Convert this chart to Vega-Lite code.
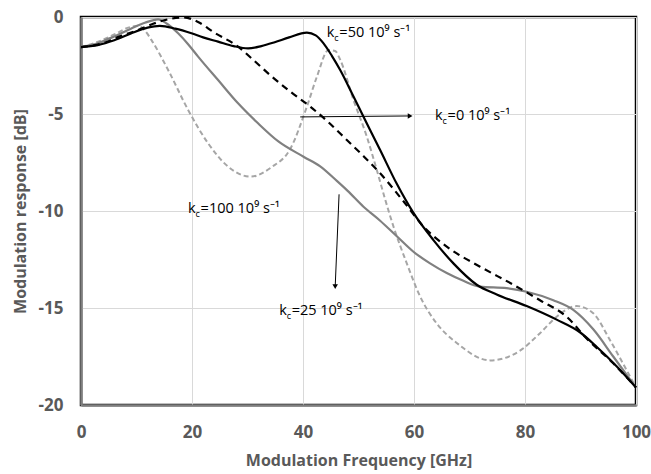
{
  "$schema": "https://vega.github.io/schema/vega-lite/v6.json",
  "width": 555,
  "height": 388,
  "autosize": {"type": "none"},
  "padding": {"left": 81, "top": 17, "right": 15, "bottom": 69},
  "background": "white",
  "config": {
    "view": {"stroke": "black", "strokeWidth": 2.5},
    "axis": {
      "domainColor": "#7f7f7f", "domainWidth": 2.5, "ticks": false,
      "gridColor": "#d9d9d9", "gridWidth": 1,
      "labelFont": "Open Sans", "labelFontWeight": "bold", "labelFontSize": 17, "labelColor": "#595959",
      "titleFont": "Open Sans", "titleFontWeight": "bold", "titleFontSize": 16, "titleColor": "#595959",
      "labelExpr": "'' + datum.value"
    }
  },
  "datasets": {
    "k50": [
      {"f":0,"db":-1.55},{"f":3,"db":-1.45},{"f":6,"db":-1.2},{"f":9,"db":-0.85},{"f":12,"db":-0.55},{"f":14.2,"db":-0.46},{"f":17,"db":-0.6},{"f":19.9,"db":-0.84},{"f":22,"db":-1.05},{"f":24.7,"db":-1.27},{"f":27.5,"db":-1.5},{"f":30.1,"db":-1.62},{"f":32.5,"db":-1.5},{"f":34.9,"db":-1.3},{"f":37.5,"db":-1.05},{"f":40.7,"db":-0.81},{"f":42.3,"db":-0.95},{"f":43.7,"db":-1.36},{"f":45.2,"db":-2.0},{"f":46.7,"db":-2.73},{"f":49.1,"db":-4.1},{"f":50.9,"db":-5.14},{"f":53.9,"db":-6.86},{"f":56.9,"db":-8.6},{"f":59.9,"db":-10.1},{"f":63.5,"db":-11.5},{"f":67.1,"db":-12.7},{"f":71.3,"db":-13.8},{"f":74.9,"db":-14.3},{"f":80.3,"db":-14.9},{"f":85.7,"db":-15.6},{"f":89.9,"db":-16.25},{"f":92.9,"db":-17.0},{"f":96.5,"db":-18.0},{"f":100,"db":-19.1}
    ],
    "k0": [
      {"f":0,"db":-1.55},{"f":4,"db":-1.35},{"f":7,"db":-1.0},{"f":10.3,"db":-0.67},{"f":13,"db":-0.35},{"f":16,"db":-0.1},{"f":18.5,"db":-0.02},{"f":21,"db":-0.24},{"f":24,"db":-0.8},{"f":28.3,"db":-1.53},{"f":31,"db":-2.2},{"f":34.1,"db":-3.0},{"f":37.5,"db":-3.8},{"f":41.3,"db":-4.62},{"f":44.5,"db":-5.4},{"f":47.9,"db":-6.34},{"f":51,"db":-7.2},{"f":53.9,"db":-8.06},{"f":58.1,"db":-9.5},{"f":61.7,"db":-10.8},{"f":65.9,"db":-11.84},{"f":71.9,"db":-12.87},{"f":77.9,"db":-13.8},{"f":82.7,"db":-14.6},{"f":87.5,"db":-15.45},{"f":91.1,"db":-16.57},{"f":95.9,"db":-17.85},{"f":100,"db":-19.1}
    ],
    "k100": [
      {"f":0,"db":-1.55},{"f":3,"db":-1.35},{"f":6,"db":-1.0},{"f":9,"db":-0.6},{"f":11.5,"db":-0.3},{"f":13.9,"db":-0.12},{"f":15.5,"db":-0.35},{"f":17.5,"db":-0.84},{"f":19.3,"db":-1.4},{"f":21.1,"db":-2.04},{"f":24.7,"db":-3.25},{"f":28.3,"db":-4.45},{"f":31.9,"db":-5.48},{"f":35.5,"db":-6.4},{"f":40.1,"db":-7.2},{"f":43.1,"db":-7.7},{"f":46.1,"db":-8.45},{"f":48,"db":-8.95},{"f":50.9,"db":-9.78},{"f":53.9,"db":-10.5},{"f":56.9,"db":-11.3},{"f":59.9,"db":-12.1},{"f":62.9,"db":-12.7},{"f":65.9,"db":-13.2},{"f":68.9,"db":-13.6},{"f":71.9,"db":-13.9},{"f":76.7,"db":-13.98},{"f":80.3,"db":-14.16},{"f":85.1,"db":-14.6},{"f":88.7,"db":-15.1},{"f":92.3,"db":-16.1},{"f":95.9,"db":-17.5},{"f":100,"db":-19.1}
    ],
    "k25": [
      {"f":0,"db":-1.55},{"f":3.1,"db":-1.27},{"f":6,"db":-0.9},{"f":8.5,"db":-0.55},{"f":10.3,"db":-0.45},{"f":11.5,"db":-0.7},{"f":12.7,"db":-1.19},{"f":15.7,"db":-2.73},{"f":19.3,"db":-4.79},{"f":22.9,"db":-6.51},{"f":26.5,"db":-7.71},{"f":30.5,"db":-8.23},{"f":34.3,"db":-7.75},{"f":37.7,"db":-6.8},{"f":40.7,"db":-4.62},{"f":42.5,"db":-3.08},{"f":44.6,"db":-1.7},{"f":45.8,"db":-1.75},{"f":46.7,"db":-2.2},{"f":49.1,"db":-4.28},{"f":51.5,"db":-6.17},{"f":53.3,"db":-7.89},{"f":54.8,"db":-9.4},{"f":56.3,"db":-10.8},{"f":58.7,"db":-12.7},{"f":61.1,"db":-14.4},{"f":64.1,"db":-15.8},{"f":67.7,"db":-16.8},{"f":73.7,"db":-17.7},{"f":79.1,"db":-17.2},{"f":82.7,"db":-16.3},{"f":85.7,"db":-15.45},{"f":89.3,"db":-14.9},{"f":92.3,"db":-15.27},{"f":95.3,"db":-16.65},{"f":98.3,"db":-18.2},{"f":100,"db":-19.1}
    ],
    "labels": [
      {"f":44.3,"db":-0.84,"k":"k","c":"c","rest":"=50 10⁹ s⁻¹"},
      {"f":63.8,"db":-5.1,"k":"k","c":"c","rest":"=0 10⁹ s⁻¹"},
      {"f":19.3,"db":-9.9,"k":"k","c":"c","rest":"=100 10⁹ s⁻¹"},
      {"f":35.7,"db":-15.15,"k":"k","c":"c","rest":"=25 10⁹ s⁻¹"}
    ],
    "arrows": [
      {"name":"h","f1":39.5,"db1":-5.15,"f2":59.3,"db2":-5.1},
      {"name":"v","f1":46.5,"db1":-9.14,"f2":45.8,"db2":-13.9}
    ]
  },
  "encoding": {
    "x": {"field": "f", "type": "quantitative", "scale": {"domain": [0, 100], "nice": false}, "axis": {"values": [0,20,40,60,80,100], "title": "Modulation Frequency [GHz]", "labelPadding": 19, "titlePadding": 12, "labelFlush": false}},
    "y": {"field": "db", "type": "quantitative", "scale": {"domain": [-20, 0], "nice": false}, "axis": {"values": [-20,-15,-10,-5,0], "title": "Modulation response [dB]", "labelPadding": 18, "titlePadding": 10}}
  },
  "layer": [
    {"data": {"name": "k25"}, "mark": {"type": "line", "interpolate": "monotone", "color": "#a6a6a6", "strokeWidth": 2, "strokeDash": [5, 3]}},
    {"data": {"name": "k100"}, "mark": {"type": "line", "interpolate": "monotone", "color": "#808080", "strokeWidth": 2.2}},
    {"data": {"name": "k0"}, "mark": {"type": "line", "interpolate": "monotone", "color": "black", "strokeWidth": 2.2, "strokeDash": [7, 5]}},
    {"data": {"name": "k50"}, "mark": {"type": "line", "interpolate": "monotone", "color": "black", "strokeWidth": 2.2}},
    {"data": {"name": "arrows"}, "mark": {"type": "rule", "color": "black", "strokeWidth": 1},
     "encoding": {"x": {"field": "f1", "type": "quantitative"}, "y": {"field": "db1", "type": "quantitative"}, "x2": {"field": "f2"}, "y2": {"field": "db2"}}},
    {"data": {"name": "arrows"}, "transform": [{"filter": "datum.name == 'h'"}], "mark": {"type": "point", "shape": "triangle-right", "filled": true, "color": "black", "size": 30, "opacity": 1},
     "encoding": {"x": {"field": "f2", "type": "quantitative"}, "y": {"field": "db2", "type": "quantitative"}}},
    {"data": {"name": "arrows"}, "transform": [{"filter": "datum.name == 'v'"}], "mark": {"type": "point", "shape": "triangle-down", "filled": true, "color": "black", "size": 30, "opacity": 1},
     "encoding": {"x": {"field": "f2", "type": "quantitative"}, "y": {"field": "db2", "type": "quantitative"}}},
    {"data": {"name": "labels"}, "mark": {"type": "text", "align": "left", "baseline": "middle", "font": "Open Sans", "fontSize": 14.5, "color": "black"},
     "encoding": {"text": {"field": "k"}}},
    {"data": {"name": "labels"}, "mark": {"type": "text", "align": "left", "baseline": "middle", "font": "Open Sans", "fontSize": 9, "color": "black", "dx": 7.5, "dy": 5},
     "encoding": {"text": {"field": "c"}}},
    {"data": {"name": "labels"}, "mark": {"type": "text", "align": "left", "baseline": "middle", "font": "Open Sans", "fontSize": 14.5, "color": "black", "dx": 12.5},
     "encoding": {"text": {"field": "rest"}}}
  ]
}
